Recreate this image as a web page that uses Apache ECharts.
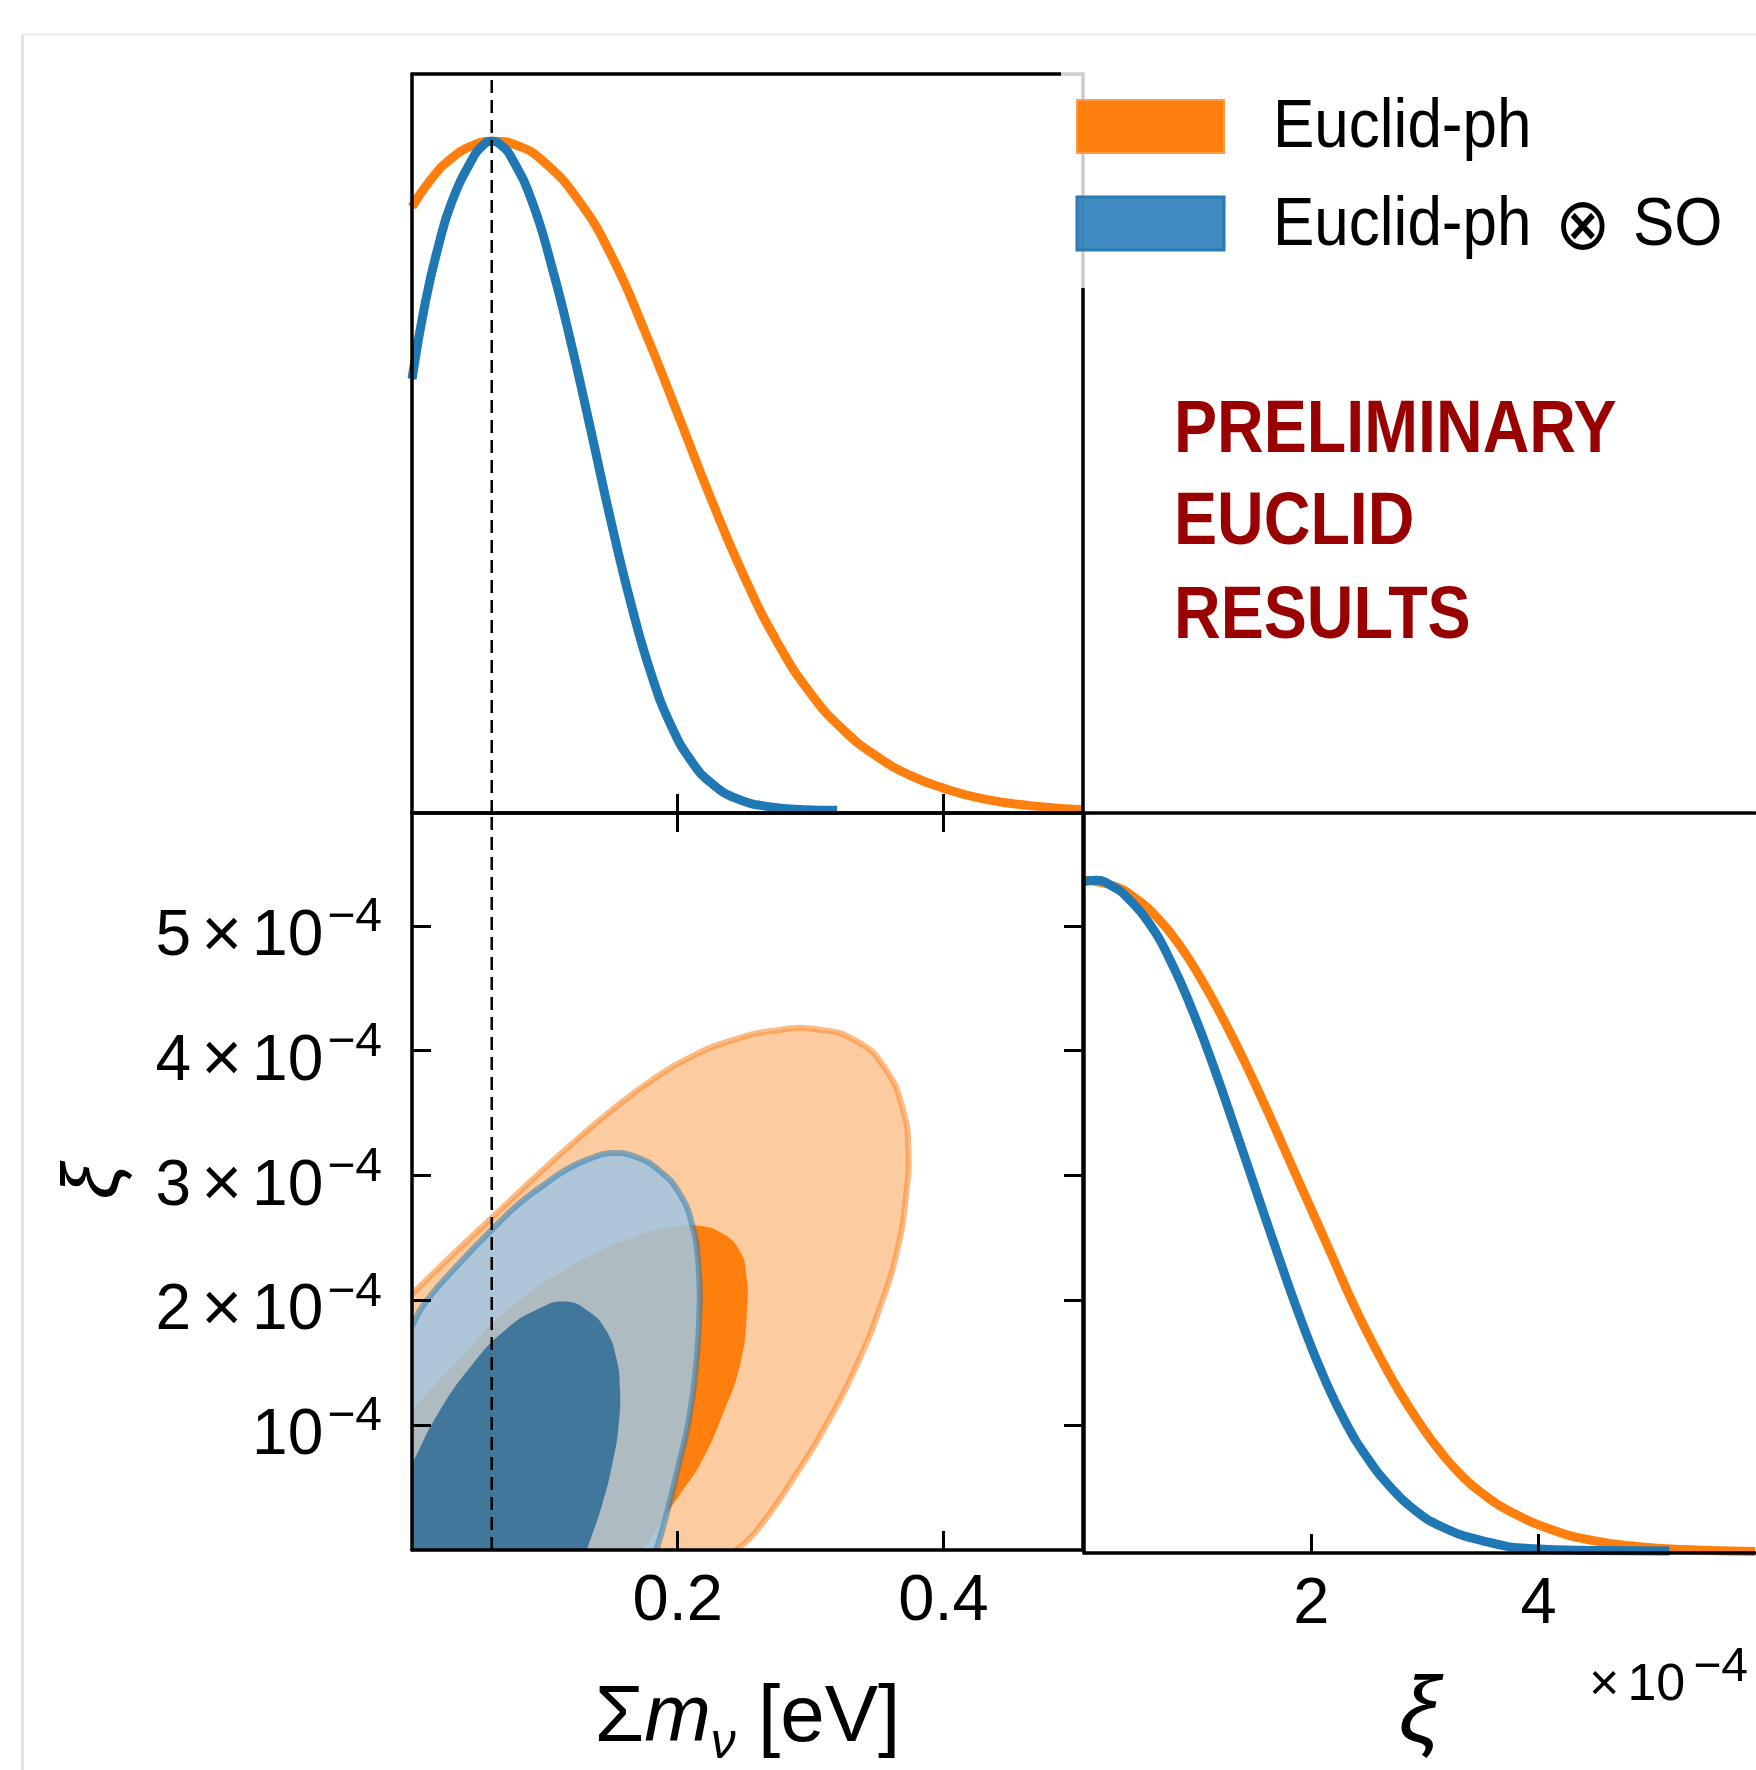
<!DOCTYPE html>
<html>
<head>
<meta charset="utf-8">
<script src="https://cdn.jsdelivr.net/npm/echarts@6/dist/echarts.min.js"></script>
<style>
html,body{margin:0;padding:0;background:#fff;}
#c{width:1756px;height:1770px;}
</style>
</head>
<body>
<div id="c"></div>
<script>
// ---------------- data ----------------
const mnuRange = [0, 0.505];          // Σmν axis [eV]
const xiRange = [0, 5.904];           // ξ axis, units of 1e-4
const pdfMax = 1.1;                   // 1D panels y extent
const mnuTickValues = [0.2, 0.4];
const xiTickValues = [1, 2, 3, 4, 5]; // ×1e-4 (y of 2D panel)
const xiXTickValues = [2, 4];         // ×1e-4 (x of ξ 1D panel)
const fiducialMnu = 0.06;
const seriesNames = ['Euclid-ph', 'Euclid-ph \u2297 SO'];

// 1D marginal of Σmν
const mnuPdfEuclid = [[0,0.902],[0.015,0.945],[0.030,0.975],[0.045,0.993],[0.060,1.000],[0.080,0.993],[0.100,0.968],[0.125,0.913],[0.150,0.830],[0.175,0.718],[0.200,0.594],[0.225,0.468],[0.250,0.352],[0.275,0.254],[0.300,0.178],[0.325,0.123],[0.350,0.084],[0.375,0.056],[0.400,0.037],[0.430,0.021],[0.465,0.011],[0.505,0.005]];
const mnuPdfEuclidSO = [[0,0.646],[0.010,0.760],[0.020,0.845],[0.030,0.910],[0.045,0.972],[0.053,0.993],[0.060,1.000],[0.067,0.994],[0.075,0.975],[0.090,0.912],[0.105,0.815],[0.120,0.697],[0.135,0.566],[0.150,0.432],[0.165,0.310],[0.180,0.207],[0.195,0.130],[0.210,0.078],[0.225,0.045],[0.245,0.021],[0.270,0.009],[0.295,0.005],[0.320,0.004]];

// 1D marginal of ξ (x in 1e-4)
const xiPdfEuclid = [[0,1.0],[0.261,0.9915],[0.454,0.973],[0.647,0.944],[0.839,0.904],[1.031,0.853],[1.224,0.794],[1.417,0.729],[1.609,0.659],[1.801,0.586],[1.994,0.513],[2.186,0.440],[2.378,0.367],[2.571,0.302],[2.764,0.243],[2.956,0.192],[3.148,0.148],[3.341,0.112],[3.533,0.085],[3.725,0.064],[4.11,0.035],[4.495,0.018],[4.88,0.0095],[5.265,0.0052],[5.904,0.0022]];
const xiPdfEuclidSO = [[0,0.998],[0.107,1.0],[0.261,0.990],[0.377,0.975],[0.570,0.937],[0.762,0.880],[0.955,0.806],[1.147,0.720],[1.339,0.626],[1.532,0.530],[1.725,0.434],[1.917,0.343],[2.109,0.262],[2.302,0.194],[2.495,0.141],[2.686,0.100],[2.879,0.068],[3.148,0.039],[3.534,0.017],[3.918,0.0067],[4.495,0.0037],[5.15,0.003]];

// 2D contours (Σmν [eV], ξ [1e-4]) : from the left edge, over the top, down to the bottom edge
const contourEuclid95 = [[0,2.05],[0.030,2.36],[0.060,2.66],[0.090,2.96],[0.120,3.25],[0.150,3.52],[0.180,3.76],[0.210,3.95],[0.240,4.08],[0.272,4.16],[0.3056,4.17],[0.3355,4.07],[0.3565,3.85],[0.3694,3.53],[0.3736,3.21],[0.3719,2.85],[0.3652,2.40],[0.3524,1.95],[0.3355,1.50],[0.3142,1.05],[0.2887,0.60],[0.259,0.15],[0.2437,0]];
const contourEuclid68 = [[0,1.12],[0.039,1.57],[0.076,1.96],[0.126,2.31],[0.170,2.52],[0.197,2.59],[0.214,2.60],[0.233,2.54],[0.2465,2.40],[0.2515,2.21],[0.252,1.89],[0.247,1.49],[0.234,1.09],[0.217,0.69],[0.202,0.45],[0.186,0.20],[0.174,0]];
const contourSO95 = [[0,1.79],[0.0105,1.99],[0.0386,2.33],[0.0606,2.57],[0.080,2.77],[0.100,2.93],[0.1164,3.05],[0.135,3.14],[0.1500,3.18],[0.168,3.15],[0.186,3.04],[0.2017,2.85],[0.2110,2.60],[0.2155,2.30],[0.2165,1.95],[0.2140,1.50],[0.2085,1.05],[0.2000,0.65],[0.1920,0.30],[0.184,0]];
const contourSO68 = [[0,0.69],[0.020,1.10],[0.045,1.48],[0.070,1.76],[0.095,1.93],[0.115,1.99],[0.133,1.91],[0.146,1.76],[0.1535,1.55],[0.1565,1.30],[0.1555,1.00],[0.151,0.70],[0.143,0.36],[0.1316,0]];

// ---------------- styles ----------------
const F = 'Liberation Sans';
const C_OR = '#ff7f0e', C_BL = '#1f77b4';
const AXW = 3.5;

function boxAxis(gridIndex, position, range) {
  return {
    type: 'value', gridIndex, position, min: range[0], max: range[1], z: 10,
    axisLine: {show: true, onZero: false, lineStyle: {color: '#000', width: AXW}},
    axisTick: {show: false}, axisLabel: {show: false}, splitLine: {show: false}
  };
}
function tickAxis(gridIndex, position, range, interval, ticks, labelOpt) {
  const a = boxAxis(gridIndex, position, range);
  a.interval = interval;
  a.axisTick = {show: true, inside: true, length: 19, customValues: ticks,
                lineStyle: {color: '#000', width: 3}};
  if (labelOpt) {
    a.axisLabel = Object.assign({show: true, customValues: ticks, color: '#000',
                                 fontFamily: F, fontSize: 65}, labelOpt);
  }
  return a;
}

const supRich = {
  b: {fontFamily: F, fontSize: 64, color: '#000', padding: [23, 0, 0, 0]},
  x: {fontFamily: F, fontSize: 70, color: '#000', padding: [23, 10, 0, 10]},
  s: {fontFamily: F, fontSize: 48, color: '#000', padding: [0, 0, 16, 4]}
};

const xAxes = [
  tickAxis(0, 'bottom', mnuRange, 0.2, mnuTickValues, null),
  boxAxis(0, 'top', mnuRange),
  tickAxis(1, 'bottom', mnuRange, 0.2, mnuTickValues, {margin: 20, formatter: v => String(v)}),
  tickAxis(1, 'top', mnuRange, 0.2, mnuTickValues, null),
  tickAxis(2, 'bottom', xiRange, 2, xiXTickValues, {margin: 20, formatter: v => String(v)}),
  boxAxis(2, 'top', xiRange)
];
xAxes[2].name = '{a|\u03A3}{i|m}{s|\u03BD}{a| [eV]}';
xAxes[2].nameLocation = 'middle';
xAxes[2].nameGap = 119;
xAxes[2].nameTextStyle = {rich: {
  a: {fontFamily: F, fontSize: 80, color: '#000'},
  i: {fontFamily: F, fontSize: 80, fontStyle: 'italic', color: '#000'},
  s: {fontFamily: F, fontSize: 50, fontStyle: 'italic', color: '#000', padding: [50, 0, 0, 0]}
}};
xAxes[4].name = '\u03BE';
xAxes[4].nameLocation = 'middle';
xAxes[4].nameGap = 116;
xAxes[4].nameTextStyle = {fontFamily: F, fontSize: 92, fontStyle: 'italic', color: '#000'};

const yAxes = [
  boxAxis(0, 'left', [0, pdfMax]),
  boxAxis(0, 'right', [0, pdfMax]),
  tickAxis(1, 'left', xiRange, 1, xiTickValues, {
    margin: 30, rich: supRich,
    formatter: v => (Math.round(v) === 1 ? '{b|10}{s|\u22124}' : '{b|' + Math.round(v) + '}{x|\u00D7}{b|10}{s|\u22124}')
  }),
  tickAxis(1, 'right', xiRange, 1, xiTickValues, null),
  boxAxis(2, 'left', [0, pdfMax])
];
yAxes[2].name = '\u03BE';
yAxes[2].nameLocation = 'middle';
yAxes[2].nameRotate = 90;
yAxes[2].nameGap = 276;
yAxes[2].nameTextStyle = {fontFamily: F, fontSize: 80, fontStyle: 'italic', color: '#000'};

function contourSeries(name, pts, fill, edge, edgeW) {
  return {
    type: 'custom', name, coordinateSystem: 'cartesian2d', xAxisIndex: 2, yAxisIndex: 2,
    clip: true, silent: true, z: 2, data: pts, encode: {x: 0, y: 1},
    renderItem: function (params, api) {
      if (params.dataIndex !== 0) return null;
      const curve = pts.map(p => api.coord(p));
      const corner = api.coord([mnuRange[0], xiRange[0]]);
      const tl = api.coord([mnuRange[0], xiRange[1]]);
      const br = api.coord([mnuRange[1], xiRange[0]]);
      const constraint = [[tl[0], tl[1]], [br[0], br[1]]];
      const first = curve[0], last = curve[curve.length - 1];
      // duplicated end points keep the corner edges straight along the axes
      const poly = [first].concat(curve, [last, corner]);
      const children = [{
        type: 'polygon',
        shape: {points: poly, smooth: 0.5, smoothConstraint: constraint},
        style: {fill: fill}
      }];
      if (edge) {
        children.push({
          type: 'polyline',
          shape: {points: curve, smooth: 0.5, smoothConstraint: constraint},
          style: {stroke: edge, lineWidth: edgeW, fill: null}
        });
      }
      return {type: 'group', children};
    }
  };
}
function pdfLine(name, data, color, xi, yi) {
  return {type: 'line', name, data, xAxisIndex: xi, yAxisIndex: yi, smooth: 0.5,
          symbol: 'none', z: 3, lineStyle: {color, width: 9}, silent: true};
}
function dashed(xi, yi, ymax) {
  return {type: 'line', data: [[fiducialMnu, 0], [fiducialMnu, ymax]], xAxisIndex: xi, yAxisIndex: yi,
          symbol: 'none', z: 4, silent: true, lineStyle: {color: '#000', width: 2.5, type: [13, 7]}};
}

const option = {
  backgroundColor: '#fff',
  animation: false,
  grid: [
    {left: 412, top: 74, width: 671, height: 739},
    {left: 412, top: 813, width: 671, height: 740},
    {left: 1084, top: 813, width: 671, height: 740}
  ],
  xAxis: xAxes,
  yAxis: yAxes,
  series: [
    pdfLine(seriesNames[0], mnuPdfEuclid, C_OR, 0, 0),
    pdfLine(seriesNames[1], mnuPdfEuclidSO, C_BL, 0, 0),
    dashed(0, 0, pdfMax),
    contourSeries(seriesNames[0], contourEuclid95, '#fccb9f', 'rgba(250,140,50,0.6)', 6),
    contourSeries(seriesNames[0], contourEuclid68, C_OR, null, 0),
    contourSeries(seriesNames[1], contourSO95, 'rgba(160,198,224,0.85)', 'rgba(31,119,180,0.5)', 6),
    contourSeries(seriesNames[1], contourSO68, '#40779b', null, 0),
    dashed(2, 2, xiRange[1]),
    pdfLine(seriesNames[0], xiPdfEuclid, C_OR, 4, 4),
    pdfLine(seriesNames[1], xiPdfEuclidSO, C_BL, 4, 4)
  ],
  graphic: [
    // slide frame
    {type: 'line', z: 1, shape: {x1: 22.5, y1: 34, x2: 22.5, y2: 1770}, style: {stroke: '#e4e4e4', lineWidth: 3}},
    {type: 'line', z: 1, shape: {x1: 22, y1: 34.5, x2: 1756, y2: 34.5}, style: {stroke: '#ececec', lineWidth: 2}},
    // legend background (semi-transparent, as in matplotlib)
    {type: 'rect', z: 50, shape: {x: 1061, y: 40, width: 700, height: 248}, style: {fill: 'rgba(255,255,255,0.8)'}},
    {type: 'rect', z: 60, shape: {x: 1077, y: 100, width: 147, height: 53}, style: {fill: C_OR, stroke: '#ff9a45', lineWidth: 2}},
    {type: 'rect', z: 60, shape: {x: 1077, y: 197, width: 147, height: 53}, style: {fill: 'rgba(31,119,180,0.85)', stroke: '#2a7ab6', lineWidth: 3}},
    {type: 'text', z: 60, x: 1273, y: 128, scaleY: 1.1, style: {text: seriesNames[0], fontFamily: F, fontSize: 62, fill: '#000', align: 'left', verticalAlign: 'middle'}},
    {type: 'text', z: 60, x: 1273, y: 226, scaleY: 1.1, style: {text: '{a|Euclid-ph }{o|\u2297}{a| SO}', align: 'left', verticalAlign: 'middle',
      rich: {a: {fontFamily: F, fontSize: 62, fill: '#000'}, o: {fontFamily: 'DejaVu Sans', fontSize: 66, fontWeight: 200, fill: '#000', padding: [8, 6, 0, 6]}}}},
    // watermark text
    {type: 'text', z: 60, x: 1174, y: 432, scaleX: 0.95, scaleY: 1.08, style: {text: 'PRELIMINARY', fontFamily: F, fontWeight: 'bold', fontSize: 68, fill: '#990000', align: 'left', verticalAlign: 'middle'}},
    {type: 'text', z: 60, x: 1174, y: 524, scaleX: 0.95, scaleY: 1.08, style: {text: 'EUCLID', fontFamily: F, fontWeight: 'bold', fontSize: 68, fill: '#990000', align: 'left', verticalAlign: 'middle'}},
    {type: 'text', z: 60, x: 1174, y: 618, scaleX: 0.95, scaleY: 1.08, style: {text: 'RESULTS', fontFamily: F, fontWeight: 'bold', fontSize: 68, fill: '#990000', align: 'left', verticalAlign: 'middle'}},
    // axis offset text
    {type: 'text', z: 60, x: 1748, y: 1686, style: {text: '{x|\u00D7}{a|10}{s|\u22124}', align: 'right', verticalAlign: 'middle',
      rich: {x: {fontFamily: F, fontSize: 52, fill: '#000', padding: [0, 8, 0, 0]},
             a: {fontFamily: F, fontSize: 52, fill: '#000'},
             s: {fontFamily: F, fontSize: 48, fill: '#000', padding: [0, 0, 36, 8]}}}}
  ]
};

const chart = echarts.init(document.getElementById('c'), null, {renderer: 'canvas', width: 1756, height: 1770});
chart.setOption(option);
</script>
</body>
</html>
